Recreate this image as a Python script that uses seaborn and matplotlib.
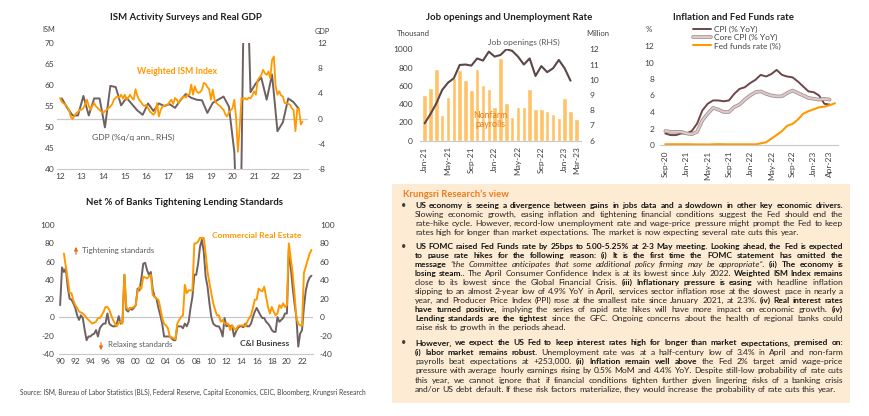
import numpy as np
import pandas as pd
import seaborn as sns
import matplotlib.pyplot as plt
import matplotlib.patheffects as pe
from matplotlib.patches import Rectangle

# ---------------- data ----------------
# weighted ISM index, monthly Jan-12 .. Apr-23
ism_weighted = [
    56.9, 56.0, 55.6, 55.4, 54.8, 54.1, 52.4, 51.9, 52.6, 53.3, 53.6, 54.1,
    54.1, 54.5, 55.3, 56.5, 55.0, 54.1, 55.0, 55.7, 54.9, 54.5, 54.0, 53.7,
    53.3, 53.8, 54.1, 54.5, 54.9, 55.4, 56.5, 57.0, 57.3, 57.0, 57.7, 56.8,
    57.7, 56.5, 57.0, 57.7, 56.9, 56.5, 59.0, 57.5, 56.5, 56.0, 55.3, 55.0,
    55.3, 54.5, 53.7, 53.3, 52.9, 53.5, 55.7, 52.5, 54.0, 54.9, 55.0, 55.3,
    55.3, 56.0, 56.5, 55.5, 56.9, 56.5, 55.7, 56.5, 56.9, 57.3, 57.0, 57.7,
    57.7, 60.1, 57.7, 59.7, 58.5, 58.1, 58.3, 58.9, 60.5, 60.3, 59.5, 59.0,
    56.5, 58.9, 56.5, 55.7, 55.3, 55.0, 54.5, 54.1, 53.0, 52.5, 53.5, 54.0,
    54.5, 56.5, 52.1, 44.1, 50.0, 56.9, 56.5, 56.9, 56.5, 57.0, 56.8, 57.5,
    58.5, 57.7, 61.2, 61.8, 62.4, 63.6, 62.8, 62.4, 63.2, 61.6, 66.0, 66.8,
    59.7, 57.7, 58.5, 57.5, 57.3, 55.7, 55.7, 55.5, 55.3, 54.5, 54.0, 49.0,
    54.3, 54.3, 50.6, 51.3,
]
# real GDP %q/q annualised, quarterly 12Q1 .. 23Q1
gdp_qoq = [
    3.2, 1.7, 0.5, 0.5,
    3.6, 0.5, 3.2, 3.2,
    -1.4, 5.2, 5.0, 2.1,
    3.3, 2.3, 1.3, 0.6,
    2.4, 1.2, 2.4, 2.0,
    2.3, 1.7, 2.9, 3.9,
    3.3, 3.0, 2.9, 0.9,
    2.5, 3.0, 3.5, 1.9,
    -5.3, -28.0, 34.8, 4.2,
    5.6, 6.5, 3.0, 7.0,
    -2.0, -0.6, 3.2, 2.6,
    1.5,
]
ism_year_labels = ['12', '13', '14', '15', '16', '17', '18', '19', '20', '21', '22', '23']

# net % of banks tightening, quarterly 90Q1 .. 23Q2
ci_business = [
    13, 54, 49, 53, 33, 20, 19, 15, 10, 2, -3, 2, -1, -14, -25, -21,
    -21, -19, -18, -14, -21, -12, -9, -7, -7, 4, -7, -9, -10, -10, -7, 1,
    -7, -5, 46, 8, 6, 10, 8, 10, 13, 31, 29, 42, 58, 59, 51, 46,
    49, 30, 22, 20, 10, 2, -7, -21, -21, -21, -21, -23, -25, -25, -10, -10,
    -10, -12, -7, -10, -5, 10, 22, 46, 46, 58, 76, 84, 71, 44, 33, 15,
    0, -7, -9, -10, -10, -14, -21, -1, -10, -9, -10, -9, -21, -16, -12, -10,
    -10, -11, -7, -10, -10, -7, 0, 6, 10, 6, 2, -1, -1, -5, -7, -10,
    -14, -16, -16, 0, -5, -3, -1, 4, 4, 73, 55, 33, 15, 0, -32, -18,
    -14, 11, 29, 38, 43, 45,
]
commercial_re = [
    np.nan, np.nan, 69, 55, 42, 26, 26, 18, 13, 10, 6, 5, 4, 2, -1, -3,
    -5, -7, -6, -5, -1, -1, 2, 6, 11, 11, 8, 2, -3, -7, -10, -6,
    -5, -7, 46, 11, 8, 10, 10, 11, 13, 28, 33, 31, 44, 43, 42, 44,
    46, 24, 22, 20, 19, 10, -1, -7, -9, -12, -21, -22, -23, -24, -7, -3,
    0, 2, 35, 26, 29, 29, 29, 80, 80, 82, 86, 86, 86, 69, 49, 37,
    26, 15, 8, 2, 2, -5, -3, -7, -7, -7, -14, -9, -12, -14, -10, -9,
    -9, -9, -10, -5, -1, 2, 10, 19, 19, 31, 29, 28, 33, 22, 11, 4,
    11, 6, 2, 4, 13, 10, 15, 11, 13, 80, 64, 48, 26, -1, -7, -9,
    -9, 48, 55, 62, 69, 73,
]
lend_year_labels = ['90', '92', '94', '96', '98', '00', '02', '04', '06', '08',
                    '10', '12', '14', '16', '18', '20', '22']

# nonfarm payrolls (thousand) Jan-21 .. Mar-23, job openings (million) Jan-21 .. Feb-23
job_months = list(pd.date_range('2021-01-01', periods=27, freq='MS').strftime('%b-%y'))
nonfarm_payrolls = [500, 573, 785, 281, 478, 690, 773, 665, 555, 785, 610, 570, 365, 900,
                    410, 255, 365, 370, 570, 350, 350, 325, 295, 245, 470, 330, 237]
job_openings = [7.14, 7.75, 8.45, 9.33, 9.81, 10.1, 10.97, 11.0, 10.93, 11.4, 11.26, 11.85, 11.52,
                11.63, 12.0, 11.9, 11.52, 11.0, 11.4, 10.25, 10.9, 10.5, 10.75, 11.3, 10.75, 9.94]
job_tick_labels = ['Jan-21', 'May-21', 'Sep-21', 'Jan-22', 'May-22', 'Sep-22', 'Jan-23', 'Mar-23']

# inflation & fed funds, monthly Sep-20 .. May-23
infl_months = list(pd.date_range('2020-09-01', periods=33, freq='MS').strftime('%b-%y'))
cpi = [1.4, 1.2, 1.2, 1.4, 1.4, 1.7, 2.6, 4.2, 5.0, 5.4, 5.4, 5.3, 5.4, 6.2, 6.8, 7.0,
       7.5, 7.9, 8.5, 8.3, 8.6, 9.1, 8.5, 8.3, 8.2, 7.7, 7.1, 6.5, 6.4, 6.0, 5.0, 4.9]
core_cpi = [1.7, 1.6, 1.6, 1.6, 1.4, 1.3, 1.6, 3.0, 3.8, 4.5, 4.3, 4.0, 4.0, 4.6, 4.9, 5.5,
            6.0, 6.4, 6.5, 6.2, 6.0, 5.9, 5.9, 6.3, 6.6, 6.3, 6.0, 5.7, 5.6, 5.5, 5.6, 5.5]
fed_funds = [0.09, 0.09, 0.09, 0.09, 0.09, 0.08, 0.07, 0.07, 0.06, 0.08, 0.10, 0.09, 0.08, 0.08,
             0.08, 0.08, 0.08, 0.08, 0.20, 0.33, 0.77, 1.21, 1.68, 2.33, 2.56, 3.08, 3.78, 4.10,
             4.33, 4.57, 4.65, 4.83, 5.06]
infl_tick_labels = ['Sep-20', 'Jan-21', 'May-21', 'Sep-21', 'Jan-22', 'May-22', 'Sep-22', 'Jan-23', 'Apr-23']

# ---------------- style ----------------
sns.set_style('white')
plt.rcParams['font.family'] = ['Lato', 'DejaVu Sans']
plt.rcParams['axes.unicode_minus'] = False

ORANGE = '#FF9900'
GRAY_LINE = '#6F6161'
DARK = '#5B4747'
CPI_C = '#6E4646'
CORE_FILL = '#DDCACA'
CORE_EDGE = '#A08C8C'
BAR_C = '#FFC266'
AXIS_GRAY = '#C8C8C8'
TICK_C = '#404040'
TS = 6.0  # tick font size

W, H = 870, 416
def fx(px): return px / W
def fy(py): return 1 - py / H
def box(l, t, r, b): return [fx(l), fy(b), (r - l) / W, (b - t) / H]

def plain(ax):
    for s in ax.spines.values():
        s.set_visible(False)
    ax.tick_params(length=0, labelsize=TS, labelcolor=TICK_C)
    ax.set_xlabel('')
    ax.set_ylabel('')

fig = plt.figure(figsize=(8.7, 4.16), dpi=100)

def title(x, y, s):
    fig.text(fx(x), fy(y), s, ha='center', va='center', fontsize=6.9,
             fontweight='bold', color='#1F1F1F')

def note(x, y, s, **kw):
    kw.setdefault('fontsize', 5.8)
    kw.setdefault('color', '#595959')
    fig.text(fx(x), fy(y), s, ha='left', va='center', **kw)

# ---------------- ISM vs GDP ----------------
ax1 = fig.add_axes(box(57, 43, 308, 169))
ax1r = ax1.twinx()
ism_x = 2012 + np.arange(len(ism_weighted)) / 12
gdp_x = 2012 + (np.arange(len(gdp_qoq)) * 3 + 1) / 12
ax1r.axhline(0, color=AXIS_GRAY, lw=0.9, zorder=0)
sns.lineplot(x=gdp_x, y=gdp_qoq, ax=ax1r, color=GRAY_LINE, linewidth=1.4)
sns.lineplot(x=ism_x, y=ism_weighted, ax=ax1, color=ORANGE, linewidth=1.3)
ax1.set_zorder(2)
ax1r.set_zorder(1)
ax1.patch.set_visible(False)
ax1.set_xlim(2011.86, 2023.5)
ax1.set_ylim(40, 70)
ax1r.set_ylim(-8, 12)
ax1.set_yticks(range(40, 71, 5))
ax1r.set_yticks(range(-8, 13, 4))
ax1.set_xticks(range(2012, 2024))
ax1.set_xticklabels(ism_year_labels)
plain(ax1)
plain(ax1r)
ax1.spines['bottom'].set_visible(True)
ax1.spines['bottom'].set_color(AXIS_GRAY)
ax1.tick_params(axis='y', pad=2)
ax1.tick_params(axis='x', pad=3)
ax1r.tick_params(axis='y', pad=7)
title(186, 17, 'ISM Activity Surveys and Real GDP')
note(42, 30, 'ISM', fontsize=5.3, color=TICK_C)
note(315, 32, 'GDP', fontsize=5.3, color=TICK_C)
note(137, 71, 'Weighted ISM Index', color=ORANGE, fontweight='bold', fontsize=6.3)
note(92, 137, 'GDP (%q/q ann., RHS)', color='#555555', fontsize=6.1)

# ---------------- lending standards ----------------
ax2 = fig.add_axes(box(59, 225, 313, 354))
lend_x = 1990 + np.arange(len(ci_business)) / 4
ax2.axhline(0, color=AXIS_GRAY, lw=0.9, zorder=0)
sns.lineplot(x=lend_x, y=ci_business, ax=ax2, color=GRAY_LINE, linewidth=1.4)
sns.lineplot(x=lend_x, y=commercial_re, ax=ax2, color=ORANGE, linewidth=1.4)
ax2.set_xlim(1989.85, 2023.45)
ax2.set_ylim(-40, 100)
ax2.set_yticks(range(-40, 101, 20))
ax2.set_xticks(range(1990, 2023, 2))
ax2.set_xticklabels(lend_year_labels)
ax2r = ax2.twinx()
ax2r.set_ylim(-40, 100)
ax2r.set_yticks(range(-40, 101, 20))
plain(ax2)
plain(ax2r)
ax2.spines['bottom'].set_visible(True)
ax2.spines['bottom'].set_color(AXIS_GRAY)
ax2.tick_params(axis='y', pad=3)
ax2.tick_params(axis='x', pad=3)
ax2r.tick_params(axis='y', pad=5)
title(185, 203, 'Net % of Banks Tightening Lending Standards')
note(212, 235, 'Commercial Real Estate', color=ORANGE, fontweight='bold', fontsize=6.1)
note(240, 344, 'C&I Business', color='#3A3A3A', fontweight='bold', fontsize=6.1)
note(82, 251, 'Tightening standards', fontsize=5.7)
note(108, 345, 'Relaxing standards', fontsize=5.7)
arrow_kw = dict(arrowstyle='-|>', color='#F26B1D', lw=0.9, mutation_scale=5)
ax2.annotate('', xy=(fx(76), fy(244)), xytext=(fx(76), fy(257)),
             xycoords='figure fraction', textcoords='figure fraction', arrowprops=arrow_kw)
ax2.annotate('', xy=(fx(101), fy(353)), xytext=(fx(101), fy(340)),
             xycoords='figure fraction', textcoords='figure fraction', arrowprops=arrow_kw)

# ---------------- job openings ----------------
ax3 = fig.add_axes(box(420, 49.3, 581, 140.7))
sns.barplot(x=job_months, y=nonfarm_payrolls, ax=ax3, color=BAR_C, saturation=1, width=0.75)
ax3r = ax3.twinx()
sns.lineplot(x=np.arange(len(job_openings)), y=job_openings, ax=ax3r, color=DARK, linewidth=1.5)
ax3.set_xlim(-0.8, 26.8)
ax3.set_ylim(0, 1000)
ax3.set_yticks(range(0, 1001, 200))
ax3r.set_ylim(6, 12)
ax3r.set_yticks(range(6, 13))
job_pos = [job_months.index(m) for m in job_tick_labels]
ax3.set_xticks(job_pos)
ax3.set_xticklabels(job_tick_labels, rotation=90)
plain(ax3)
plain(ax3r)
ax3.spines['bottom'].set_visible(True)
ax3.spines['bottom'].set_color(AXIS_GRAY)
ax3.tick_params(axis='y', pad=5)
ax3.tick_params(axis='x', pad=4)
ax3r.tick_params(axis='y', pad=6)
title(509, 17, 'Job openings and Unemployment Rate')
note(397, 34, 'Thousand', fontsize=5.5, color=TICK_C)
note(586, 34, 'Million', fontsize=5.5, color=TICK_C)
note(488, 42, 'Job openings (RHS)', fontsize=6.1)
fig.text(fx(490), fy(120), 'Nonfarm\npayrolls', ha='center', va='center',
         fontsize=6.3, color='#EE7A0E', linespacing=1.05, zorder=5)

# ---------------- inflation & fed funds ----------------
ax4 = fig.add_axes(box(660, 29.5, 837.6, 145))
infl_x = np.arange(len(infl_months))
sns.lineplot(x=infl_x[:len(cpi)], y=cpi, ax=ax4, color=CPI_C, linewidth=1.4,
             label='CPI (% YoY)')
sns.lineplot(x=infl_x[:len(core_cpi)], y=core_cpi, ax=ax4, color=CORE_FILL, linewidth=1.5,
             label='Core CPI (% YoY)',
             path_effects=[pe.Stroke(linewidth=2.6, foreground=CORE_EDGE), pe.Normal()])
sns.lineplot(x=infl_x, y=fed_funds, ax=ax4, color=ORANGE, linewidth=1.5,
             label='Fed funds rate (%)')
ax4.set_xlim(-1, 32.5)
ax4.set_ylim(0, 14)
ax4.set_yticks(range(0, 13, 2))
infl_pos = [infl_months.index(m) for m in infl_tick_labels]
ax4.set_xticks(infl_pos)
ax4.set_xticklabels(infl_tick_labels, rotation=90)
plain(ax4)
ax4.spines['bottom'].set_visible(True)
ax4.spines['bottom'].set_color(AXIS_GRAY)
ax4.tick_params(axis='y', pad=4)
ax4.tick_params(axis='x', pad=4)
leg = ax4.legend(loc='upper left', bbox_to_anchor=(fx(693), fy(26)), bbox_transform=fig.transFigure,
                 frameon=False, fontsize=6.0, handlelength=2.2, handletextpad=0.3,
                 labelspacing=0.12, borderpad=0, borderaxespad=0)
for t in leg.get_texts():
    t.set_color(TICK_C)
title(733, 17, 'Inflation and Fed Funds rate')
note(646, 29, '%', fontsize=5.7, color=TICK_C)

# ---------------- source ----------------
note(20, 392, 'Source: ISM, Bureau of Labor Statistics (BLS), Federal Reserve, Capital Economics, '
     'CEIC, Bloomberg, Krungsri Research', fontsize=4.8, color='#404040')

# ---------------- Krungsri view box ----------------
fig.patches.append(Rectangle((fx(392), fy(403)), (850 - 392) / W, (403 - 184) / H,
                             transform=fig.transFigure, facecolor='#FDEBD3', edgecolor='none',
                             zorder=0))
fig.text(fx(403), fy(194), 'Krungsri Research\u2019s view', ha='left', va='center',
         fontsize=6.8, fontweight='bold', color='#F07A1A')

paragraphs = [
    (206, 9.0, [
        [('B', 'US economy is seeing a divergence between gains in jobs data and a slowdown in other key economic drivers.')],
        [('R', 'Slowing economic growth, easing inflation and tightening financial conditions suggest the Fed should end the')],
        [('R', 'rate-hike cycle. However, record-low unemployment rate and wage-price pressure might prompt the Fed to keep')],
        [('R', 'rates high for longer than market expectations. The market is now expecting several rate cuts this year.')],
    ]),
    (246.5, 9.0, [
        [('B', 'US FOMC raised Fed Funds rate by 25bps to 5.00-5.25% at 2-3 May meeting. Looking ahead, the Fed is expected')],
        [('B', 'to pause rate hikes for the following reason: (i) It is the first time the FOMC statement has omitted the')],
        [('B', 'message'), ('I', '\u201cthe Committee anticipates that some additional policy firming may be appropriate\u201d.'),
         ('B', '(ii) The economy is')],
        [('B', 'losing steam..'), ('R', 'The April Consumer Confidence Index is at its lowest since July 2022.'),
         ('B', 'Weighted ISM Index remains')],
        [('R', 'close to its lowest since the Global Financial Crisis.'), ('B', '(iii) Inflationary pressure is easing'),
         ('R', 'with headline inflation')],
        [('R', 'slipping to an almost 2-year low of 4.9% YoY in April, services sector inflation rose at the slowest pace in nearly a')],
        [('R', 'year, and Producer Price Index (PPI) rose at the smallest rate since January 2021, at 2.3%.'),
         ('B', '(iv) Real interest rates')],
        [('B', 'have turned positive,'), ('R', 'implying the series of rapid rate hikes will have more impact on economic growth.'),
         ('B', '(iv)')],
        [('B', 'Lending standards are the tightest'),
         ('R', 'since the GFC. Ongoing concerns about the health of regional banks could')],
        [('R', 'raise risk to growth in the periods ahead.')],
    ]),
    (343.3, 9.3, [
        [('B', 'However, we expect the US Fed to keep interest rates high for longer than market expectations, premised on:')],
        [('B', '(i) labor market remains robust.'),
         ('R', 'Unemployment rate was at a half-century low of 3.4% in April and non-farm')],
        [('R', 'payrolls beat expectations at +253,000.'), ('B', '(ii) Inflation remain well above'),
         ('R', 'the Fed 2% target amid wage-price')],
        [('R', 'pressure with average hourly earnings rising by 0.5% MoM and 4.4% YoY. Despite still-low probability of rate cuts')],
        [('R', 'this year, we cannot ignore that if financial conditions tighten further given lingering risks of a banking crisis')],
        [('R', 'and/or US debt default. If these risk factors materialize, they would increase the probability of rate cuts this year.')],
    ]),
]

STYLE = {'B': dict(fontweight='bold', color='#151515'),
         'R': dict(color='#242424'),
         'I': dict(fontstyle='italic', color='#242424')}
renderer = fig.canvas.get_renderer()
X0, X1 = 415, 843
LINE_W = X1 - X0


def space_width(fs):
    a = fig.text(0, 0, 'x x', fontsize=fs)
    b = fig.text(0, 0, 'xx', fontsize=fs)
    w = a.get_window_extent(renderer).width - b.get_window_extent(renderer).width
    a.remove()
    b.remove()
    return w


# build all words once, then fit regular and bold sizes to the widest justified lines
base_fs = 5.5
rows = []
for y0, step, lines in paragraphs:
    fig.text(fx(404), fy(y0 + 2), '\u2022', ha='center', va='baseline', fontsize=6.5, color='#404040')
    for i, segs in enumerate(lines):
        y = y0 + i * step + 2.1
        objs = [(st, fig.text(0, fy(y), w, ha='left', va='baseline', fontsize=base_fs, **STYLE[st]))
                for st, seg in segs for w in seg.split()]
        rows.append((objs, i == len(lines) - 1))

sp = space_width(base_fs)


def natural(objs):
    return sum(o.get_window_extent(renderer).width for _, o in objs) + sp * (len(objs) - 1)


fs_of = {}
for kind in ('R', 'B'):
    pure = [natural(objs) for objs, last in rows
            if not last and all(st == kind for st, _ in objs)]
    fs_of[kind] = base_fs * (LINE_W - 6) / max(pure)
fs_of['I'] = fs_of['R']
sp = space_width(fs_of['R'])
for objs, last in rows:
    for st, o in objs:
        o.set_fontsize(fs_of[st])
    widths = [o.get_window_extent(renderer).width for _, o in objs]
    if last or len(objs) < 2:
        gap = sp
    else:
        gap = (LINE_W - sum(widths)) / (len(objs) - 1)
    x = X0
    for (_, o), wd in zip(objs, widths):
        o.set_x(fx(x))
        x += wd + gap

fig.savefig('out.png', dpi=100)
